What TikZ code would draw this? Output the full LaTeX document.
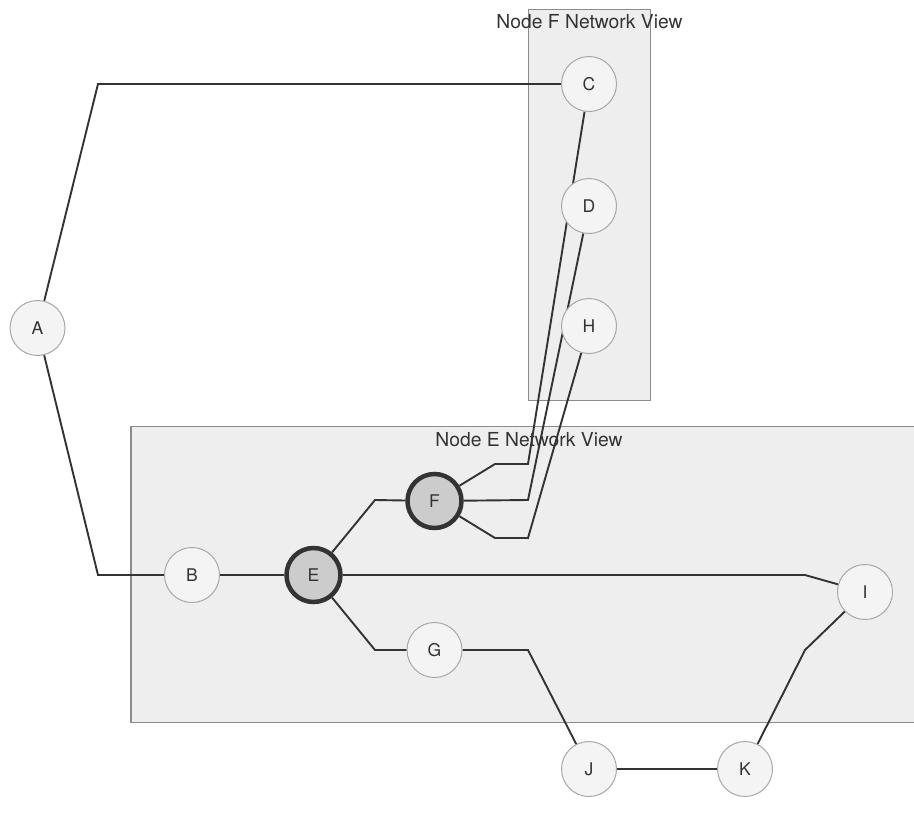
\documentclass[tikz,border=0pt]{standalone}
\usepackage{fontspec}
\setmainfont{TeX Gyre Heros}
\pgfdeclarelayer{boxlayer}
\pgfdeclarelayer{edgelayer}
\pgfsetlayers{boxlayer,edgelayer,main}
\definecolor{nodefill}{HTML}{F4F4F4}
\definecolor{nodeline}{HTML}{A8A8A8}
\definecolor{hubfill}{HTML}{CCCCCC}
\definecolor{ink}{HTML}{333333}
\definecolor{groupfill}{HTML}{EEEEEE}
\definecolor{groupline}{HTML}{8C8C8C}
\tikzset{
  vertex/.style={circle, draw=nodeline, line width=1pt, fill=nodefill,
    minimum size=55pt, inner sep=0pt, text=ink,
    font=\fontsize{17.5}{20}\selectfont},
  hub/.style={vertex, fill=hubfill, draw=ink, line width=4.5pt, minimum size=54pt},
  link/.style={draw=ink, line width=1.9pt, line join=miter},
  groupbox/.style={draw=groupline, line width=1.1pt, fill=groupfill, inner sep=0pt},
  grouptitle/.style={anchor=base, text=ink, inner sep=0pt,
    font=\fontsize{19.3}{22}\selectfont}
}
\begin{document}
\begin{tikzpicture}[x=1pt, y=-1pt]
\useasboundingbox (0,0) rectangle (914,825);

% nodes
\node[vertex] (A) at (37.5,328) {A};
\node[vertex] (C) at (589,84) {C};
\node[vertex] (D) at (589,206) {D};
\node[vertex] (H) at (589,326) {H};
\node[vertex] (B) at (192,575) {B};
\node[hub]    (E) at (313.5,575) {E};
\node[hub]    (F) at (434.5,501) {F};
\node[vertex] (G) at (434.5,650) {G};
\node[vertex] (I) at (865,592) {I};
\node[vertex] (J) at (589,769) {J};
\node[vertex] (K) at (745,769) {K};

% group frames and their titles
\begin{pgfonlayer}{boxlayer}
  \node[groupbox, minimum width=122pt, minimum height=391pt] (fview) at (589.5,205) {};
  \node[groupbox, minimum width=784pt, minimum height=296pt] (eview) at (523,574.7) {};
\end{pgfonlayer}
\node[grouptitle] (ftitle) at (589.5,28.5) {Node F Network View};
\node[grouptitle] (etitle) at (529,446.5) {Node E Network View};

% connections
\begin{pgfonlayer}{edgelayer}
  \draw[link] (A) -- (98,84) -- (C);
  \draw[link] (A) -- (98,575) -- (B);
  \draw[link] (B) -- (E);
  \draw[link] (E) -- (375,500) -- (F);
  \draw[link] (E) -- (375,650) -- (G);
  \draw[link] (E) -- (805,575) -- (I);
  \draw[link] (F) -- (495,464) -- (528,464) -- (C);
  \draw[link] (F) -- (528,500) -- (D);
  \draw[link] (F) -- (495,538) -- (528,538) -- (H);
  \draw[link] (G) -- (528,650) -- (J);
  \draw[link] (I) -- (805,650) -- (K);
  \draw[link] (J) -- (K);
\end{pgfonlayer}
\end{tikzpicture}
\end{document}
